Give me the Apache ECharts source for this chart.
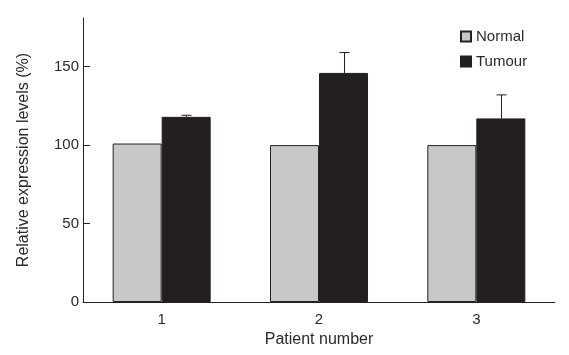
<!DOCTYPE html>
<html>
<head>
<meta charset="utf-8">
<script src="https://cdn.jsdelivr.net/npm/echarts@6/dist/echarts.min.js"></script>
<style>
  html, body { margin: 0; padding: 0; background: #fff; }
  #chart { width: 569px; height: 355px; }
</style>
</head>
<body>
<div id="chart"></div>
<script>
    // data
    var patients = ['1', '2', '3']
    var normalVals = [101, 100, 100]
    var tumourVals = [118, 146, 117]
    var tumourErrTop = [119, 159, 132]   // top of error bar (upper only)
    var yTicks = [0, 50, 100, 150]

    var textFont = 'Liberation Sans'
    var textCol = '#2a2a2a'
    var barW = 49

    var errData = patients.map(function (p, i) {
        return [i, tumourVals[i], tumourErrTop[i]]
    })

    var myChart = echarts.init(document.getElementById('chart'))

    var option = {
        animation: false,
        textStyle: { fontFamily: textFont },
        grid: { left: 83, right: 14, top: 18, bottom: 53 },
        legend: {
            orient: 'vertical',
            left: 460,
            top: 29,
            padding: 0,
            icon: 'rect',
            itemWidth: 10,
            itemHeight: 10,
            itemGap: 10,
            data: ['Normal', 'Tumour'],
            textStyle: { fontFamily: textFont, fontSize: 15, color: textCol }
        },
        xAxis: {
            type: 'category',
            data: patients,
            name: 'Patient number',
            nameLocation: 'middle',
            nameGap: 29,
            nameTextStyle: { fontFamily: textFont, fontSize: 16, color: textCol },
            axisLine: { lineStyle: { color: '#222', width: 1 } },
            axisTick: { inside: true, length: 7, lineStyle: { color: '#222' } },
            axisLabel: { fontFamily: textFont, fontSize: 15, color: textCol, margin: 10 }
        },
        yAxis: {
            type: 'value',
            min: 0,
            max: 181,
            interval: 50,
            name: 'Relative expression levels (%)',
            nameLocation: 'middle',
            nameGap: 51,
            nameTextStyle: { fontFamily: textFont, fontSize: 16, color: textCol },
            axisLine: { show: true, lineStyle: { color: '#222', width: 1 } },
            axisTick: { show: true, inside: true, length: 7, lineStyle: { color: '#222' } },
            axisLabel: {
                fontFamily: textFont, fontSize: 15, color: textCol, margin: 4,
                showMaxLabel: false,
                formatter: function (v) { return yTicks.indexOf(v) >= 0 ? v : '' }
            },
            splitLine: { show: false }
        },
        series: [
            {
                name: 'Normal',
                type: 'bar',
                data: normalVals,
                barWidth: barW,
                barGap: '0%',
                itemStyle: { color: '#c8c8c8', borderColor: '#222', borderWidth: 1 }
            },
            {
                name: 'Tumour',
                type: 'bar',
                data: tumourVals,
                barWidth: barW,
                barGap: '0%',
                itemStyle: { color: '#231f20', borderColor: '#231f20', borderWidth: 1 }
            },
            {
                name: 'err',
                type: 'custom',
                data: errData,
                z: 3,
                renderItem: function (params, api) {
                    let i = api.value(0)
                    let base = api.coord([i, api.value(1)])
                    let top = api.coord([i, api.value(2)])
                    let x = Math.round(base[0] + barW / 2) + 0.5
                    return {
                        type: 'group',
                        children: [
                            { type: 'line', shape: { x1: x, y1: base[1], x2: x, y2: top[1] },
                              style: { stroke: '#231f20', lineWidth: 1 } },
                            { type: 'line', shape: { x1: x - 5, y1: top[1], x2: x + 5, y2: top[1] },
                              style: { stroke: '#231f20', lineWidth: 1 } }
                        ]
                    }
                }
            }
        ]
    }

    myChart.setOption(option)
</script>
</body>
</html>
